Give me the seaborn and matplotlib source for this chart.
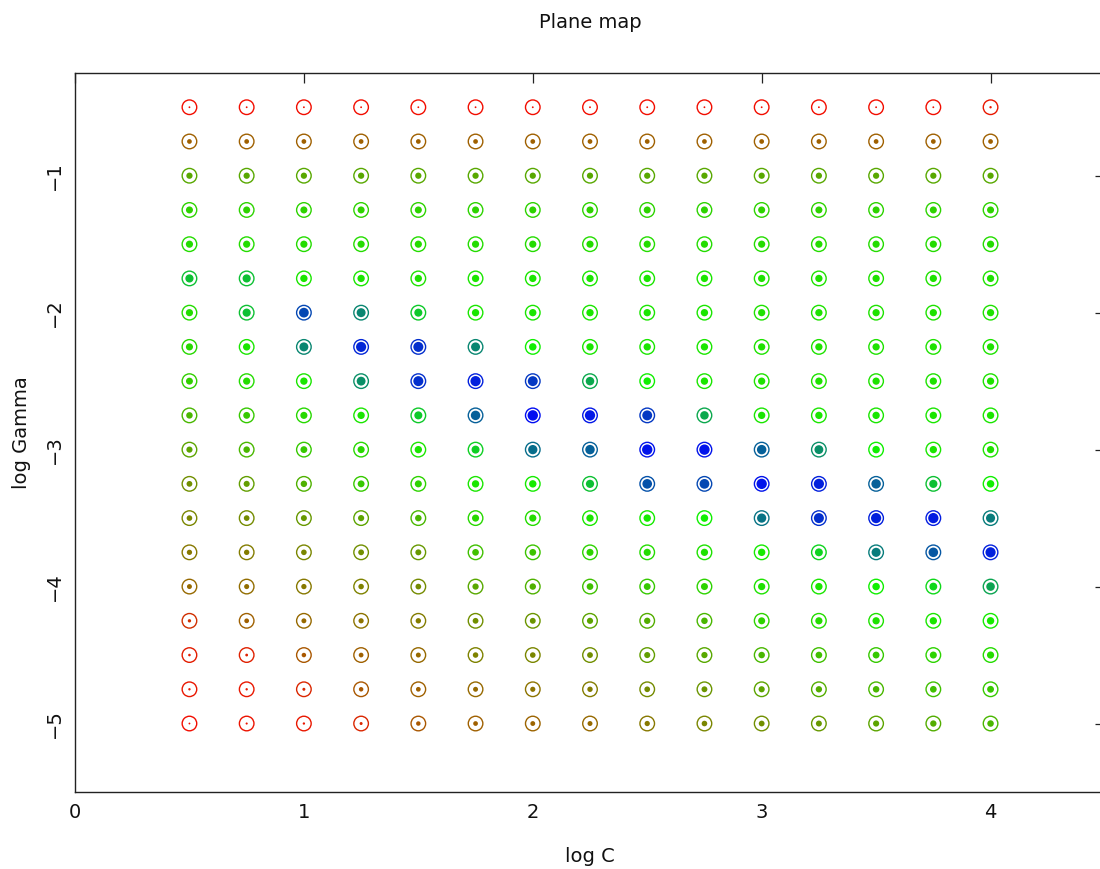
import numpy as np
import pandas as pd
import matplotlib
matplotlib.use("Agg")
import matplotlib.pyplot as plt
import seaborn as sns
from matplotlib.colors import LinearSegmentedColormap
from matplotlib.ticker import MultipleLocator

# ---- data -------------------------------------------------------------
log_c = [0.5, 0.75, 1.0, 1.25, 1.5, 1.75, 2.0, 2.25, 2.5, 2.75, 3.0, 3.25, 3.5, 3.75, 4.0]
log_gamma = [-0.5, -0.75, -1.0, -1.25, -1.5, -1.75, -2.0, -2.25, -2.5, -2.75,
             -3.0, -3.25, -3.5, -3.75, -4.0, -4.25, -4.5, -4.75, -5.0]

# normalised score per grid cell (rows = log Gamma, columns = log C)
row_m0_50 = [0.03, 0.03, 0.03, 0.03, 0.03, 0.03, 0.03, 0.03, 0.03, 0.03, 0.03, 0.03, 0.03, 0.03, 0.05]
row_m0_75 = [0.20, 0.20, 0.20, 0.20, 0.20, 0.20, 0.20, 0.20, 0.20, 0.20, 0.20, 0.20, 0.20, 0.20, 0.20]
row_m1_00 = [0.35, 0.35, 0.35, 0.35, 0.35, 0.35, 0.35, 0.35, 0.35, 0.35, 0.35, 0.35, 0.35, 0.35, 0.35]
row_m1_25 = [0.44, 0.44, 0.44, 0.44, 0.44, 0.44, 0.44, 0.44, 0.44, 0.44, 0.44, 0.44, 0.44, 0.44, 0.44]
row_m1_50 = [0.46, 0.46, 0.46, 0.46, 0.46, 0.46, 0.46, 0.46, 0.46, 0.46, 0.46, 0.46, 0.46, 0.46, 0.46]
row_m1_75 = [0.60, 0.60, 0.48, 0.48, 0.47, 0.48, 0.48, 0.48, 0.48, 0.48, 0.47, 0.47, 0.47, 0.47, 0.47]
row_m2_00 = [0.46, 0.60, 0.85, 0.72, 0.58, 0.48, 0.48, 0.48, 0.48, 0.48, 0.47, 0.47, 0.47, 0.47, 0.47]
row_m2_25 = [0.45, 0.48, 0.72, 0.92, 0.90, 0.72, 0.50, 0.48, 0.48, 0.48, 0.47, 0.47, 0.47, 0.47, 0.47]
row_m2_50 = [0.43, 0.46, 0.48, 0.70, 0.90, 0.93, 0.88, 0.65, 0.50, 0.48, 0.47, 0.47, 0.47, 0.47, 0.47]
row_m2_75 = [0.38, 0.42, 0.45, 0.48, 0.58, 0.80, 0.97, 0.95, 0.88, 0.65, 0.48, 0.48, 0.48, 0.48, 0.48]
row_m3_00 = [0.34, 0.38, 0.42, 0.45, 0.48, 0.57, 0.77, 0.80, 0.96, 0.96, 0.80, 0.70, 0.50, 0.48, 0.47]
row_m3_25 = [0.30, 0.33, 0.37, 0.42, 0.44, 0.48, 0.49, 0.60, 0.83, 0.85, 0.96, 0.93, 0.80, 0.60, 0.50]
row_m3_50 = [0.28, 0.29, 0.32, 0.34, 0.38, 0.45, 0.46, 0.48, 0.49, 0.50, 0.76, 0.90, 0.93, 0.94, 0.74]
row_m3_75 = [0.25, 0.26, 0.28, 0.30, 0.32, 0.40, 0.41, 0.44, 0.46, 0.47, 0.49, 0.56, 0.74, 0.82, 0.93]
row_m4_00 = [0.22, 0.23, 0.25, 0.27, 0.29, 0.35, 0.37, 0.40, 0.42, 0.44, 0.47, 0.48, 0.50, 0.55, 0.66]
row_m4_25 = [0.10, 0.20, 0.22, 0.24, 0.26, 0.30, 0.31, 0.34, 0.36, 0.38, 0.44, 0.46, 0.47, 0.48, 0.49]
row_m4_50 = [0.06, 0.07, 0.18, 0.20, 0.22, 0.27, 0.28, 0.30, 0.33, 0.35, 0.38, 0.40, 0.42, 0.44, 0.46]
row_m4_75 = [0.05, 0.05, 0.08, 0.18, 0.20, 0.22, 0.24, 0.26, 0.29, 0.31, 0.34, 0.36, 0.38, 0.40, 0.42]
row_m5_00 = [0.03, 0.04, 0.05, 0.08, 0.18, 0.20, 0.21, 0.22, 0.25, 0.28, 0.30, 0.32, 0.34, 0.36, 0.38]

score_rows = [row_m0_50, row_m0_75, row_m1_00, row_m1_25, row_m1_50, row_m1_75,
              row_m2_00, row_m2_25, row_m2_50, row_m2_75, row_m3_00, row_m3_25,
              row_m3_50, row_m3_75, row_m4_00, row_m4_25, row_m4_50, row_m4_75,
              row_m5_00]

x_ticks = [0, 1, 2, 3, 4]
y_ticks = [-5, -4, -3, -2, -1]

# ---- build table ---------------------------------------------------------
records = []
for g, row in zip(log_gamma, score_rows):
    for c, s in zip(log_c, row):
        records.append({"log_c": c, "log_gamma": g, "score": s})
df = pd.DataFrame(records)

# ---- style -------------------------------------------------------------
sns.set_style("white")
plt.rcParams["font.family"] = ["DejaVu Sans"]
plt.rcParams["axes.unicode_minus"] = True

cmap = LinearSegmentedColormap.from_list("rgb3", ["#ff0000", "#10f000", "#0000ff"])

fig = plt.figure(figsize=(11.0, 8.69), dpi=100)
W, H = 1100, 869
ax = fig.add_axes([75 / W, (H - 792) / H, 1030 / W, (792 - 73) / H])

# outer rings
ax.scatter(df["log_c"], df["log_gamma"], s=110, facecolors="none",
           edgecolors=cmap(df["score"].to_numpy()), linewidths=1.0, zorder=2)

# inner dots (colour and area both follow the score)
sns.scatterplot(data=df, x="log_c", y="log_gamma", hue="score", palette=cmap,
                hue_norm=(0, 1), size="score", sizes=(0, 58), size_norm=(0, 1),
                linewidth=0, legend=False, ax=ax, zorder=3)

ax.set_xlim(0, 4.5)
ax.set_ylim(-5.5, -0.25)
ax.set_xticks(x_ticks)
ax.set_yticks(y_ticks)
ax.xaxis.set_minor_locator(MultipleLocator(0.2))
ax.yaxis.set_minor_locator(MultipleLocator(0.2))

ax.tick_params(which="both", direction="in", color="#222222", width=0.9,
               labelsize=14, labelcolor="#111111")
ax.tick_params(which="major", length=7.5, top=True, right=True)
ax.tick_params(which="minor", length=4.5, top=False, right=False)
ax.tick_params(axis="x", pad=8)
ax.tick_params(axis="y", pad=8)
for lbl in ax.get_yticklabels():
    lbl.set_rotation(90)
    lbl.set_va("center")

for sp in ax.spines.values():
    sp.set_color("#222222")
    sp.set_linewidth(1.0)

ax.set_xlabel("log C", fontsize=14, color="#111111", va="center")
ax.set_ylabel("log Gamma", fontsize=14, color="#111111", va="center")
ax.xaxis.set_label_coords(0.5, (792 - 857) / (792 - 73))
ax.yaxis.set_label_coords((22 - 75) / 1030, 0.5)
fig.text((75 + 1105) / 2 / W, 1 - 22 / H, "Plane map", ha="center", va="center",
         fontsize=14, color="#111111")

fig.savefig("out.png", dpi=100, facecolor="white")
